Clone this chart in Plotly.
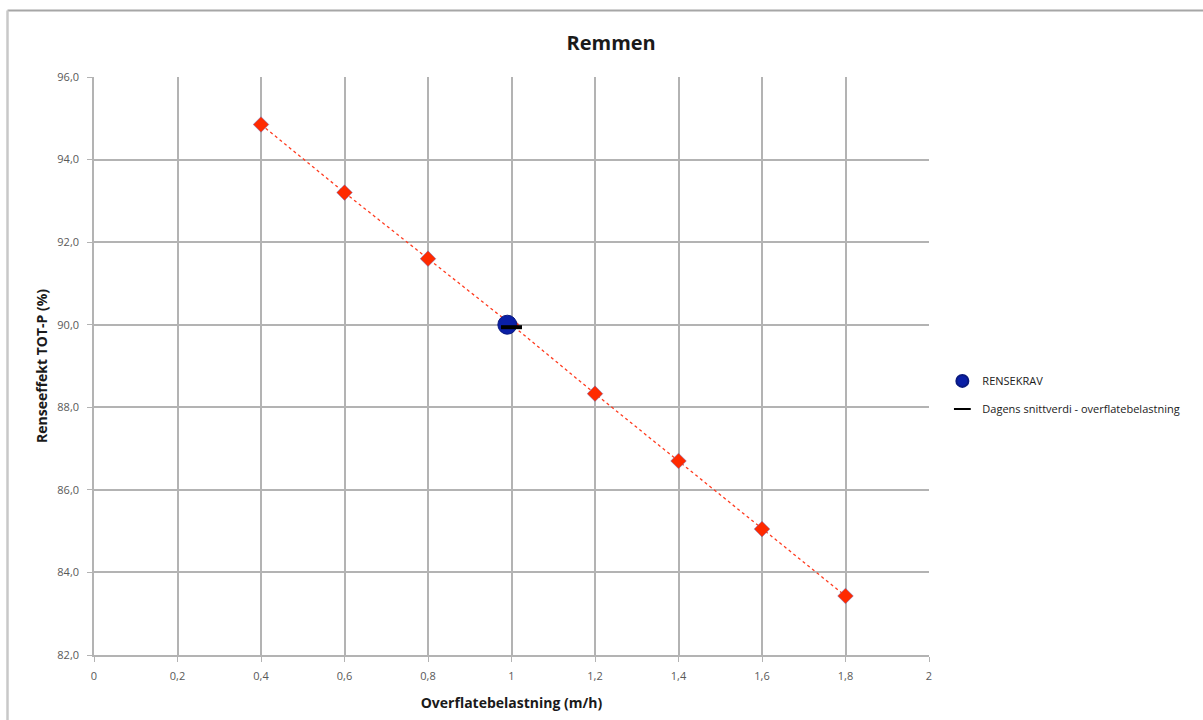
import plotly.graph_objects as go

# Overflow rate (m/h) vs. TOT-P removal efficiency (%)
belastning = [0.4, 0.6, 0.8, 1.0, 1.2, 1.4, 1.6, 1.8]
renseeffekt = [94.85, 93.2, 91.6, 90.0, 88.33, 86.7, 85.05, 83.43]

krav_x = [0.99]
krav_y = [90.0]

snitt_x = [1.0]
snitt_y = [89.94]

font_family = "Open Sans, Lato, sans-serif"

fig = go.Figure()

fig.add_trace(go.Scatter(
    x=belastning, y=renseeffekt,
    mode="lines+markers",
    line=dict(color="#ff3b1f", width=1.3, dash="dot"),
    marker=dict(symbol="diamond", size=12, color="#ff2a00",
                line=dict(color="rgba(90,110,200,0.45)", width=1)),
    showlegend=False,
))

fig.add_trace(go.Scatter(
    x=krav_x, y=krav_y,
    mode="markers",
    name="RENSEKRAV",
    legendgroup="krav",
    marker=dict(symbol="circle", size=19, color="#0a1fa6",
                line=dict(color="#0a1a80", width=1)),
))

fig.add_trace(go.Scatter(
    x=snitt_x, y=snitt_y,
    mode="markers",
    name="Dagens snittverdi - overflatebelastning",
    legendgroup="snitt",
    marker=dict(symbol="line-ew", size=15, color="black",
                line=dict(color="black", width=4)),
))

fig.update_layout(
    width=1203, height=720,
    margin=dict(l=94, r=274, t=77, b=65, autoexpand=False),
    paper_bgcolor="white",
    plot_bgcolor="white",
    separators=", ",
    font=dict(family=font_family, color="#595959", size=11),
    title=dict(text="<b>Remmen</b>", x=0.508, xanchor="center",
               xref="container", y=0.94, yanchor="middle",
               font=dict(size=20, color="#1a1a1a", family=font_family)),
    legend=dict(x=1.016, y=0.45, xanchor="left", yanchor="middle",
                font=dict(size=11, color="#1a1a1a", family=font_family),
                itemsizing="constant", tracegroupgap=9,
                bgcolor="rgba(0,0,0,0)"),
    xaxis=dict(
        range=[0, 2], dtick=0.2, tick0=0,
        showgrid=True, gridcolor="#b3b3b3", gridwidth=1.5,
        showline=True, linecolor="#b3b3b3", linewidth=1.5,
        ticks="outside", ticklen=5, tickcolor="#b3b3b3",
        ticklabelstandoff=5,
        zeroline=False,
        title=dict(text="<b>Overflatebelastning (m/h)</b>",
                   font=dict(size=14, color="#1a1a1a"), standoff=16),
    ),
    yaxis=dict(
        range=[82, 96], dtick=2, tick0=82, tickformat=".1f",
        showgrid=True, gridcolor="#b3b3b3", gridwidth=1.5,
        showline=True, linecolor="#b3b3b3", linewidth=1.5,
        ticks="outside", ticklen=5, tickcolor="#b3b3b3",
        ticklabelstandoff=6,
        zeroline=False,
        title=dict(text="<b>Renseeffekt TOT-P (%)</b>",
                   font=dict(size=14, color="#1a1a1a"), standoff=6),
    ),
)

# outer chart frame (top and left edges)
pw = 1203 - 94 - 274
ph = 720 - 77 - 65
fx0 = (7.5 - 94) / pw
top_y = 1 + (77 - 10.5) / ph
bottom_y = -(65 + 5) / ph
right_x = 1 + (274 + 5) / pw
fig.add_shape(type="line", xref="paper", yref="paper",
              x0=fx0, x1=right_x, y0=top_y, y1=top_y,
              line=dict(color="#a6a6a6", width=2))
fig.add_shape(type="line", xref="paper", yref="paper",
              x0=fx0, x1=fx0, y0=top_y, y1=bottom_y,
              line=dict(color="#c8c8c8", width=2.5))

fig.write_html("out.html")
